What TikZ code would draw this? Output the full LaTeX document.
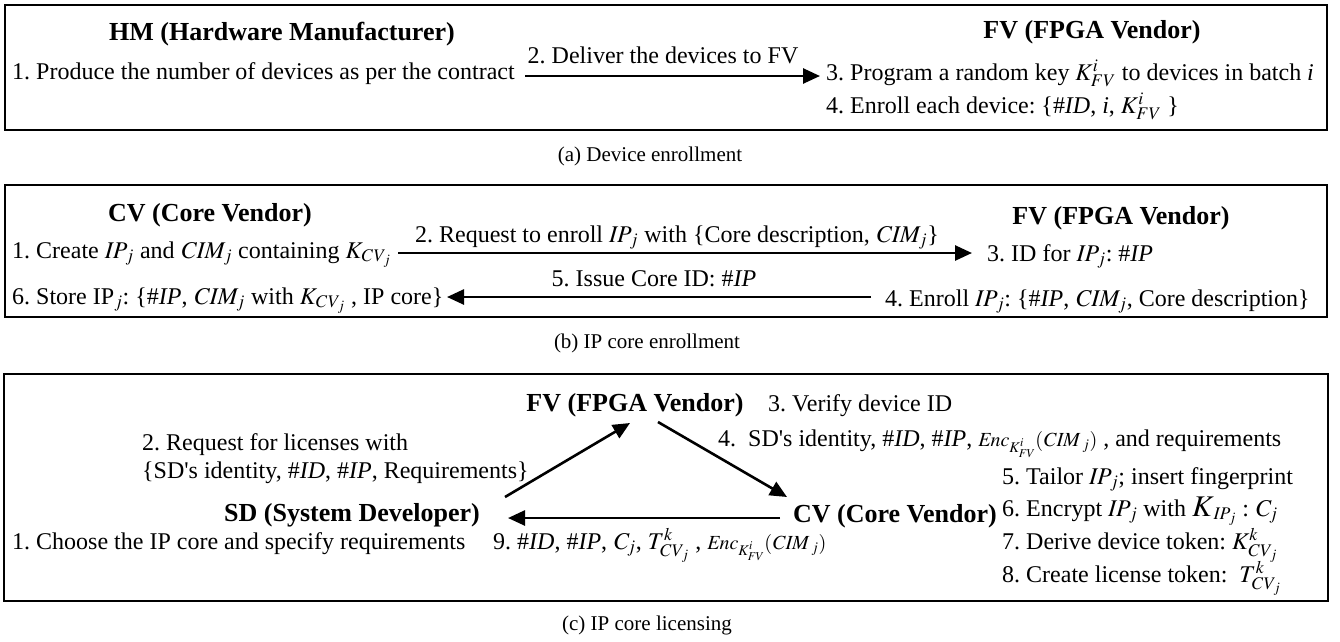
\documentclass[tikz,border=0pt]{standalone}
\usepackage{mathptmx}
\usepackage{fontspec}
\setmainfont{Liberation Serif}
\usetikzlibrary{arrows.meta}
\frenchspacing
\newcommand{\mj}[1]{\mathit{#1}_{\mkern-2mu j}}
\newcommand{\encfv}{{\fontsize{20}{24}\selectfont$\mathit{Enc}_{K^{i}_{\mathit{FV}}}(\mathit{CIM}_{\,j})$}}
\newcommand{\bigKK}{{\fontsize{30}{30}\selectfont$K$}}
\newcommand{\sds}{SD\textquotesingle s}
\tikzset{
 txt/.style={inner sep=0pt, font=\fontsize{24}{30}\selectfont\frenchspacing},
 hdr/.style={inner sep=0pt, font=\fontsize{26}{30}\selectfont\bfseries\frenchspacing},
 captxt/.style={inner sep=0pt, font=\fontsize{21}{25}\selectfont},
 frame/.style={draw, line width=2pt},
 arr/.style={line width=2.6pt, -{Triangle[length=17pt,width=15pt]}},
}
\begin{document}
\begin{tikzpicture}[x=1pt,y=-1pt]
\useasboundingbox (0,0) rectangle (1340,641);
% frames
\draw[frame] (5,5) rectangle (1327,130);
\draw[frame] (5,185) rectangle (1327,317);
\draw[frame] (4,374) rectangle (1328,601);
% (a)
\node[hdr, anchor=base] (hm) at (282,40) {HM (Hardware Manufacturer)};
\node[txt, anchor=base west] (hm1) at (12,79) {1. Produce the number of devices as per the contract};
\node[txt, anchor=base] (d2) at (663,63) {2. Deliver the devices to FV};
\node[hdr, anchor=base] (fva) at (1092,38) {FV (FPGA Vendor)};
\node[txt, anchor=base west] (fv3) at (826,80) {3. Program a random key $K^{i}_{FV}$ to devices in batch \textit{i}};
\node[txt, anchor=base west] (fv4) at (826,113) {4. Enroll each device: \{\#\textit{ID}, \textit{i}, $K^{i}_{FV}$ \}};
\coordinate (a1s) at (525,76);
\coordinate (a1e) at (820,76);
\draw[arr] (a1s) -- (a1e);
\node[captxt, anchor=base] (ca) at (650,161) {(a) Device enrollment};
% (b)
\node[hdr, anchor=base] (cv) at (210,221) {CV (Core Vendor)};
\node[txt, anchor=base west] (cv1) at (12,258) {1. Create $\mj{IP}$ and $\mj{CIM}$ containing $K_{\mj{CV}}$};
\node[txt, anchor=base] (r2) at (677,242) {2. Request to enroll $\mj{IP}$ with \{Core description, $\mj{CIM}$\}};
\node[hdr, anchor=base] (fvb) at (1121,224) {FV (FPGA Vendor)};
\node[txt, anchor=base west] (fvb3) at (987,261) {3. ID for $\mj{IP}$: \#\textit{IP}};
\node[txt, anchor=base] (i5) at (654,286) {5. Issue Core ID: \#\textit{IP}};
\node[txt, anchor=base west] (cv6) at (12,304) {6. Store IP$_j$: \{\#\textit{IP}, $\mj{CIM}$ with $K_{\mj{CV}}$ , IP core\}};
\node[txt, anchor=base west] (fvb4) at (885,306) {4. Enroll $\mj{IP}$: \{\#\textit{IP}, $\mj{CIM}$, Core description\}};
\coordinate (b2s) at (398,253);
\coordinate (b2e) at (972,253);
\coordinate (b5s) at (871,297);
\coordinate (b5e) at (447,297);
\draw[arr] (b2s) -- (b2e);
\draw[arr] (b5s) -- (b5e);
\node[captxt, anchor=base] (cb) at (647,348) {(b) IP core enrollment};
% (c)
\node[hdr, anchor=base] (fvc) at (635,411) {FV (FPGA Vendor)};
\node[txt, anchor=base west] (fvc3) at (768,411) {3. Verify device ID};
\node[txt, anchor=base west] (m4) at (718,446) {4.\ \ \sds{} identity, \#\textit{ID}, \#\textit{IP}, \encfv\ , and requirements};
\node[txt, anchor=base west] (m2a) at (142,450) {2. Request for licenses with};
\node[txt, anchor=base west] (m2b) at (142,478) {\{\sds{} identity, \#\textit{ID}, \#\textit{IP}, Requirements\}};
\node[hdr, anchor=base] (sd) at (352,521) {SD (System Developer)};
\node[txt, anchor=base west] (sd1) at (12,549) {1. Choose the IP core and specify requirements};
\node[txt, anchor=base west] (m9) at (493,549) {9. \#\textit{ID}, \#\textit{IP}, $\mj{C}$, $T^{k}_{\mj{CV}}$ , \encfv};
\node[hdr, anchor=base east] (cvc) at (997,522) {CV (Core Vendor)};
\node[txt, anchor=base west] (c5) at (1002,484) {5. Tailor $\mj{IP}$; insert fingerprint};
\node[txt, anchor=base west] (c6) at (1002,516) {6. Encrypt $\mj{IP}$ with \bigKK$_{\mj{IP}}$ : $\mj{C}$};
\node[txt, anchor=base west] (c7) at (1002,549) {7. Derive device token: $K^{k}_{\mj{CV}}$};
\node[txt, anchor=base west] (c8) at (1002,582) {8. Create license token: \ $T^{k}_{\mj{CV}}$};
\coordinate (c2s) at (505,497);
\coordinate (c2e) at (630,423);
\coordinate (c4s) at (658,422);
\coordinate (c4e) at (787,497);
\coordinate (c9s) at (780,518);
\coordinate (c9e) at (508,518);
\draw[arr] (c2s) -- (c2e);
\draw[arr] (c4s) -- (c4e);
\draw[arr] (c9s) -- (c9e);
\node[captxt, anchor=base] (cc) at (647,630) {(c) IP core licensing};
\end{tikzpicture}
\end{document}
